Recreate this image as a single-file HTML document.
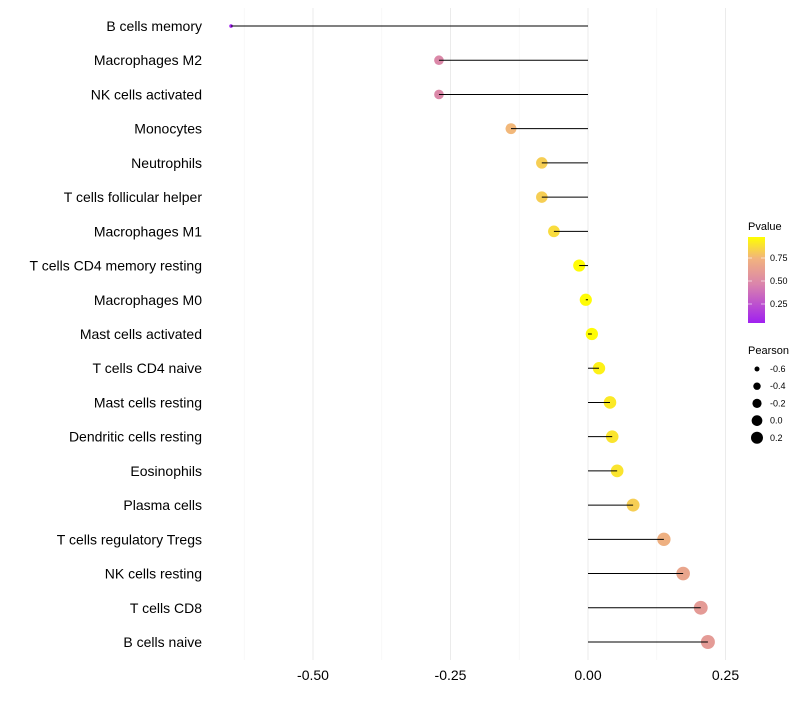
<!DOCTYPE html>
<html><head><meta charset="utf-8"><style>
body{margin:0;background:#fff;font-family:"Liberation Sans",sans-serif}
</style></head><body>
<svg id="c" width="800" height="700" xmlns="http://www.w3.org/2000/svg">
<defs><linearGradient id="pg" x1="0" y1="1" x2="0" y2="0">
<stop offset="0" stop-color="#A020F0"/><stop offset="0.45" stop-color="#DA84AC"/><stop offset="0.75" stop-color="#F2B37E"/><stop offset="1" stop-color="#FFFF00"/></linearGradient></defs>
<g id="grid"></g><g id="pts"></g><g id="segs"></g><g id="labels"></g><g id="ticks"></g>
<g font-size="9">
<text x="748" y="230" font-size="11">Pvalue</text>
<rect x="748" y="237" width="17" height="86" fill="url(#pg)"/>
<line x1="748" x2="752" y1="258" y2="258" stroke="#fff" opacity=".6"/><line x1="761" x2="765" y1="258" y2="258" stroke="#fff" opacity=".6"/>
<line x1="748" x2="752" y1="281" y2="281" stroke="#fff" opacity=".6"/><line x1="761" x2="765" y1="281" y2="281" stroke="#fff" opacity=".6"/>
<line x1="748" x2="752" y1="304" y2="304" stroke="#fff" opacity=".6"/><line x1="761" x2="765" y1="304" y2="304" stroke="#fff" opacity=".6"/>
<text x="770" y="261">0.75</text><text x="770" y="284">0.50</text><text x="770" y="307">0.25</text>
</g>
<g id="sizeleg" font-size="9">
<text x="748" y="354" font-size="11">Pearson</text>
</g>
</svg>
<script>
const categories=["B cells memory","Macrophages M2","NK cells activated","Monocytes","Neutrophils","T cells follicular helper","Macrophages M1","T cells CD4 memory resting","Macrophages M0","Mast cells activated","T cells CD4 naive","Mast cells resting","Dendritic cells resting","Eosinophils","Plasma cells","T cells regulatory  Tregs","NK cells resting","T cells CD8","B cells naive"];
const pearson=[-0.649,-0.271,-0.271,-0.14,-0.084,-0.084,-0.062,-0.016,-0.004,0.007,0.02,0.04,0.044,0.053,0.082,0.138,0.173,0.205,0.218];
const pvalue=[0.04,0.47,0.47,0.72,0.8,0.8,0.85,0.97,0.97,0.97,0.93,0.9,0.88,0.88,0.8,0.68,0.62,0.57,0.57];
const xTicks=[-0.5,-0.25,0,0.25];
const xTickLabels=["-0.50","-0.25","0.00","0.25"];
const sizeBreaks=[-0.6,-0.4,-0.2,0.0,0.2];
const sizeLabels=["-0.6","-0.4","-0.2","0.0","0.2"];
const NS="http://www.w3.org/2000/svg";
const x=v=>588+550*v;
const y=i=>26+i*(616/18);
const r=v=>Math.sqrt(Math.max(1,28.6+37.2*v));
const rp=v=>Math.sqrt(Math.max(1,32+45*v))*1.08;
function col(p){const stops=[[0.04,[160,32,240]],[0.47,[219,136,168]],[0.72,[242,184,122]],[0.98,[255,255,0]]];
if(p<=stops[0][0])return `rgb(${stops[0][1]})`;
for(let k=1;k<stops.length;k++){if(p<=stops[k][0]){const a=stops[k-1],b=stops[k],t=(p-a[0])/(b[0]-a[0]);return `rgb(${a[1].map((c,j)=>Math.round(c+(b[1][j]-c)*t))})`;}}
return "rgb(255,255,0)";}
function mk(t,at,parent){const e=document.createElementNS(NS,t);for(const k in at)e.setAttribute(k,at[k]);document.getElementById(parent).appendChild(e);return e;}
[-0.625,-0.375,-0.125,0.125].forEach(v=>{const l=mk('line',{x1:x(v),x2:x(v),y1:8,y2:660,stroke:'#f4f4f4','stroke-width':0.6},'grid');

});
xTicks.forEach((v,i)=>{const l=mk('line',{x1:x(v),x2:x(v),y1:8,y2:660,stroke:'#ebebeb','stroke-width':1},'grid');


const t=mk('text',{x:x(v),y:680,'text-anchor':'middle','font-size':14,fill:'#000'},'ticks');t.textContent=xTickLabels[i];

});
categories.forEach((c,i)=>{
const p=mk('circle',{cx:x(pearson[i]),cy:y(i),r:rp(pearson[i]),fill:col(pvalue[i])},'pts');


const s=mk('line',{x1:x(0),x2:x(pearson[i]),y1:y(i),y2:y(i),stroke:'#000','stroke-width':1},'segs');


const t=mk('text',{x:202,y:y(i)+5,'text-anchor':'end','font-size':14,fill:'#000'},'labels');t.textContent=c;

});
sizeBreaks.forEach((v,i)=>{const cy=369+i*17.2;
const d=mk('circle',{cx:757,cy:cy,r:r(v),fill:'#000'},'sizeleg');


const t=mk('text',{x:770,y:cy+3},'sizeleg');t.textContent=sizeLabels[i];

});
</script>
</body></html>
